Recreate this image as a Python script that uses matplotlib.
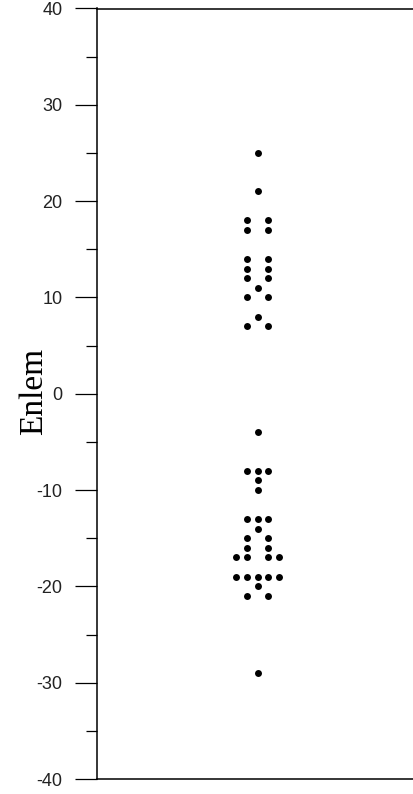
import matplotlib

matplotlib.use("Agg")

import matplotlib.pyplot as plt
import numpy as np
from matplotlib.ticker import MultipleLocator

plt.rcParams["axes.unicode_minus"] = False

# latitude values, one per dot
enlem = [
    25, 21, 18, 18, 17, 17, 14, 14, 13, 13, 12, 12, 11, 10, 10, 8, 7, 7,
    -4, -8, -8, -8, -9, -10, -13, -13, -13, -14, -15, -15, -16, -16,
    -17, -17, -17, -17, -19, -19, -19, -19, -19, -20, -21, -21, -29,
]
y_ticks = [-40, -30, -20, -10, 0, 10, 20, 30, 40]


def dot_offsets(values):
    # symmetric dot plot: odd counts get a centre dot, even counts sit at +-1, +-2 ...
    vals, counts = np.unique(np.asarray(values), return_counts=True)
    xs, ys = [], []
    for v, n in zip(vals, counts):
        if n % 2:
            offs = [0] + [s * k for k in range(1, n // 2 + 1) for s in (-1, 1)]
        else:
            offs = [s * k for k in range(1, n // 2 + 1) for s in (-1, 1)]
        xs.extend(offs)
        ys.extend([v] * n)
    return np.array(xs, dtype=float), np.array(ys, dtype=float)


fig = plt.figure(figsize=(4.14, 7.94), dpi=100)
ax = fig.add_axes([97 / 414, 15 / 794, 317 / 414, 770.5 / 794])

x, y = dot_offsets(enlem)
ax.scatter(x, y, s=25, color="black", linewidths=0, zorder=3)

ax.set_xlim(-15.0, 14.6)
ax.set_ylim(-40, 40)
ax.set_xticks([])
ax.set_yticks(y_ticks)
ax.yaxis.set_minor_locator(MultipleLocator(5))
ax.tick_params(axis="y", which="major", direction="out", length=16, width=0.9,
               pad=9, labelsize=13, labelcolor="#222222")
ax.tick_params(axis="y", which="minor", direction="out", length=8, width=0.9)
for lbl in ax.get_yticklabels():
    lbl.set_family("Liberation Sans")

ax.spines["right"].set_visible(False)
for side in ("left", "top", "bottom"):
    ax.spines[side].set_linewidth(1.1)

ax.set_ylabel("Enlem", family="Liberation Serif", fontsize=24, va="center")
ax.yaxis.set_label_coords(-63.5 / 317, 0.503)

fig.savefig("out.png", dpi=100)
plt.close(fig)
